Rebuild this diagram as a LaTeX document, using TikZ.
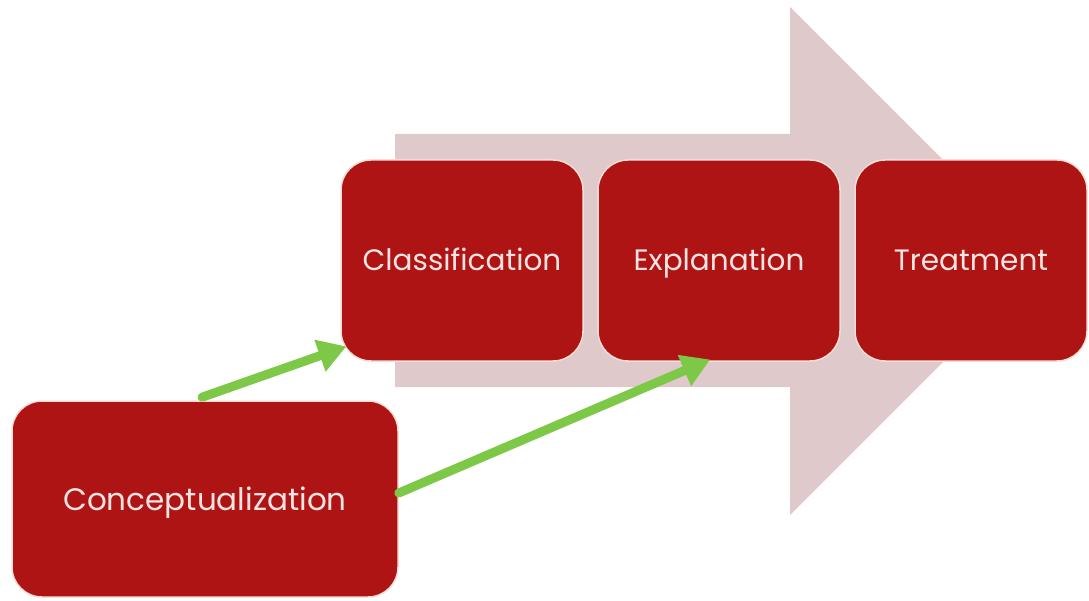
\documentclass[tikz,border=0pt]{standalone}
\usepackage{fontspec}
\setmainfont{Poppins}
\usetikzlibrary{calc,arrows.meta}
\definecolor{boxred}{RGB}{174,20,20}
\definecolor{bigarrow}{RGB}{223,201,203}
\definecolor{greenarr}{RGB}{126,200,72}
\definecolor{txt}{RGB}{247,228,226}
\definecolor{rim}{RGB}{244,222,214}
\tikzset{
  stage/.style={fill=boxred, draw=rim, line width=1.5pt, rounded corners=30pt, text=txt, font=\fontsize{29.5}{34}\selectfont, inner sep=0pt, text height=21pt, text depth=0pt},
  link/.style={draw=greenarr, line width=9pt, line cap=round, -{Triangle[length=28pt,width=32pt]}, shorten >=2pt}
}
\begin{document}
\begin{tikzpicture}[x=1pt,y=-1pt]
\useasboundingbox (0,0) rectangle (1089,601);
% big background arrow
\fill[bigarrow] (395,134) -- (790,134) -- (790,7) -- (1044,261) -- (790,515) -- (790,387) -- (395,387) -- cycle;
% stage boxes
\node[stage, minimum width=242pt, minimum height=201pt] (class) at (462,260.5) {Classification};
\node[stage, minimum width=242pt, minimum height=201pt] (expl) at (719,260.5) {Explanation};
\node[stage, minimum width=232pt, minimum height=201pt] (treat) at (971,260.5) {Treatment};
\node[stage, minimum width=386pt, minimum height=196pt, font=\fontsize{31}{36}\selectfont, text height=22pt] (conc) at (205,499) {Conceptualization};
% connectors
\coordinate (c1) at ($(class.south west)+(8,-16)$);
\coordinate (c2) at ($(expl.south)+(-7,-3)$);
\draw[link] ($(conc.north)+(-3,-3)$) -- (c1);
\draw[link] ($(conc.east)+(0,-6)$) -- (c2);
\end{tikzpicture}
\end{document}
